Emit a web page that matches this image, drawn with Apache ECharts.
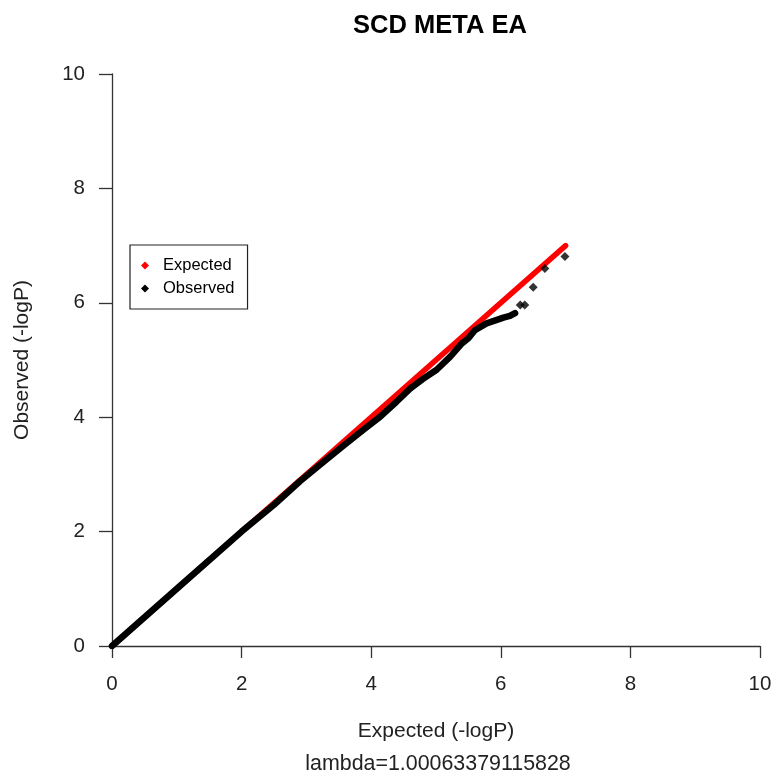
<!DOCTYPE html>
<html><head><meta charset="utf-8">
<script src="https://cdn.jsdelivr.net/npm/echarts@6/dist/echarts.min.js"></script>
<style>html,body{margin:0;padding:0;background:#fff}#c{width:776px;height:775px}</style>
</head><body><div id="c"></div>
<script>
// Data
var expectedX = [0, 7];
var expectedY = [0, 7];
// dense part of observed quantiles (drawn as a thick band of points)
var observedX = [0, 1, 2, 2.5, 2.9, 3.2, 3.57, 3.88, 4.14, 4.39, 4.6, 4.8, 5.01, 5.22, 5.4, 5.5, 5.6, 5.78, 5.94, 6.04, 6.14, 6.22];
var observedY = [0, 1, 2, 2.47, 2.88, 3.16, 3.5, 3.78, 4.01, 4.27, 4.5, 4.67, 4.83, 5.06, 5.29, 5.38, 5.52, 5.64, 5.70, 5.74, 5.77, 5.82];
// sparse tail of observed quantiles
var tailX = [6.30, 6.37, 6.50, 6.68, 6.99];
var tailY = [5.96, 5.96, 6.27, 6.60, 6.81];
var xTicks = [0, 2, 4, 6, 8, 10];
var yTicks = [0, 2, 4, 6, 8, 10];
var titleText = 'SCD META EA';
var xName = 'Expected (-logP)';
var yName = 'Observed (-logP)';
var lambdaText = 'lambda=1.00063379115828';

function zip(a, b) { return a.map(function (v, i) { return [v, b[i]]; }); }
var FF = '"Liberation Sans", Arial, Helvetica, sans-serif';
var chart = echarts.init(document.getElementById('c'), null, {renderer: 'canvas'});
chart.setOption({
  animation: false,
  backgroundColor: '#fff',
  title: [
    {text: titleText, left: 435, top: 8, textAlign: 'center',
     textStyle: {fontFamily: FF, fontSize: 25.5, fontWeight: 'bold', color: '#000'}},
    {text: lambdaText, left: 433, top: 749, textAlign: 'center',
     textStyle: {fontFamily: FF, fontSize: 21.4, fontWeight: 'normal', color: '#222'}}
  ],
  legend: {
    left: 130, top: 245, orient: 'vertical',
    data: [{name: 'Expected', icon: 'diamond'}, {name: 'Observed', icon: 'diamond'}],
    itemWidth: 8, itemHeight: 8, itemGap: 6,
    padding: [12, 13, 12, 11],
    borderColor: '#222', borderWidth: 1.2, borderRadius: 0,
    textStyle: {fontFamily: FF, fontSize: 16.5, color: '#000', padding: [0, 0, 0, 9]}
  },
  grid: {left: 112, right: 16, top: 74, bottom: 129, containLabel: false},
  xAxis: {
    type: 'value', min: 0, max: 10, interval: 2,
    name: xName, nameLocation: 'middle', nameGap: 75,
    nameTextStyle: {fontFamily: FF, fontSize: 21, color: '#222'},
    axisLine: {show: true, lineStyle: {color: '#333', width: 1.3}},
    axisTick: {show: true, inside: false, length: 12, lineStyle: {color: '#333', width: 1.3}},
    axisLabel: {margin: 28, fontFamily: FF, fontSize: 20.5, color: '#222',
      formatter: function (v) { return xTicks.indexOf(v) >= 0 ? String(v) : ''; }},
    splitLine: {show: false}
  },
  yAxis: {
    type: 'value', min: 0, max: 10, interval: 2,
    name: yName, nameLocation: 'middle', nameGap: 79, nameRotate: 90,
    nameTextStyle: {fontFamily: FF, fontSize: 21, color: '#222'},
    axisLine: {show: true, lineStyle: {color: '#333', width: 1.3}},
    axisTick: {show: true, inside: false, length: 13, lineStyle: {color: '#333', width: 1.3}},
    axisLabel: {margin: 27, fontFamily: FF, fontSize: 20.5, color: '#222',
      formatter: function (v) { return yTicks.indexOf(v) >= 0 ? String(v) : ''; }},
    splitLine: {show: false}
  },
  series: [
    {name: 'Expected', type: 'line', data: zip(expectedX, expectedY),
     showSymbol: false, symbol: 'diamond', color: '#ff0000',
     itemStyle: {color: '#ff0000'},
     lineStyle: {color: '#ff0000', width: 5.5, cap: 'round'}, z: 2},
    {name: 'Observed', type: 'line', data: zip(observedX, observedY),
     showSymbol: false, symbol: 'diamond', color: '#000',
     itemStyle: {color: '#000'},
     lineStyle: {color: '#000', width: 6.5, cap: 'round', join: 'round'}, z: 3},
    {name: 'Observed', type: 'scatter', data: zip(tailX, tailY),
     symbol: 'diamond', symbolSize: 9, color: '#000',
     itemStyle: {color: '#000'}, z: 3}
  ]
});
</script></body></html>
